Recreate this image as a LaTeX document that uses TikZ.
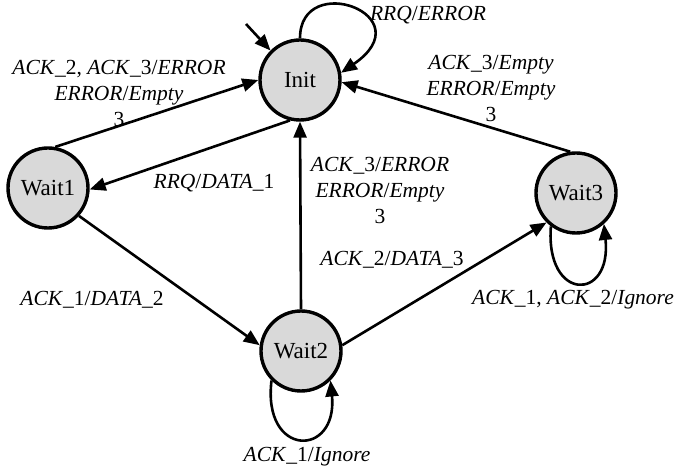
\documentclass[tikz,border=0pt]{standalone}
\usepackage{fontspec}
\setmainfont{Liberation Serif}
\usetikzlibrary{arrows.meta}
\begin{document}
\begin{tikzpicture}[x=1pt,y=-1pt,
  state/.style={circle, draw, line width=3.4pt, fill=gray!30, minimum size=80pt, inner sep=0pt, font=\fontsize{23}{26}\selectfont},
  edge/.style={line width=2.6pt, -{Triangle[length=16pt,width=13pt]}},
  lbl/.style={font=\fontsize{21.5}{26}\selectfont, align=center, inner sep=0pt}]
\useasboundingbox (0,0) rectangle (681,470);
\node[state] (init) at (300,80) {Init};
\node[state] (wait1) at (48,188) {Wait1};
\node[state] (wait2) at (301,351) {Wait2};
\node[state] (wait3) at (576,193) {Wait3};
\coordinate (start) at (246,24);
% edges
\draw[edge] (start) -- (init.135);
\draw[edge] (init.90) .. controls (300,-30) and (425,15) .. (init.10);
\draw[edge] (wait1.80) -- (init.180);
\draw[edge] (init.256) -- (wait1.-2);
\draw[edge] (wait1.-42) -- (wait2.172);
\draw[edge] (wait2.90) -- (init.270);
\draw[edge] (wait2.8) -- (wait3.225);
\draw[edge] (wait3.98) -- (init.-3);
\draw[edge] (wait2.-135) .. controls (262,458) and (338,458) .. (wait2.-45);
\draw[edge] (wait3.-127) .. controls (545,302) and (612,302) .. (wait3.-48);
% labels
\node[lbl] (l1) at (428,15) {\textit{RRQ}/\textit{ERROR}};
\node[lbl] (l2) at (119,93) {\textit{ACK}\_2, \textit{ACK}\_3/\textit{ERROR}\\\textit{ERROR}/\textit{Empty}\\3};
\node[lbl] (l3) at (214,183) {\textit{RRQ}/\textit{DATA}\_1};
\node[lbl] (l4) at (380,190) {\textit{ACK}\_3/\textit{ERROR}\\\textit{ERROR}/\textit{Empty}\\3};
\node[lbl] (l5) at (491,88) {\textit{ACK}\_3/\textit{Empty}\\\textit{ERROR}/\textit{Empty}\\3};
\node[lbl] (l6) at (92,300) {\textit{ACK}\_1/\textit{DATA}\_2};
\node[lbl] (l7) at (392,260) {\textit{ACK}\_2/\textit{DATA}\_3};
\node[lbl] (l8) at (573,300) {\textit{ACK}\_1, \textit{ACK}\_2/\textit{Ignore}};
\node[lbl] (l9) at (307,457) {\textit{ACK}\_1/\textit{Ignore}};
\end{tikzpicture}
\end{document}
